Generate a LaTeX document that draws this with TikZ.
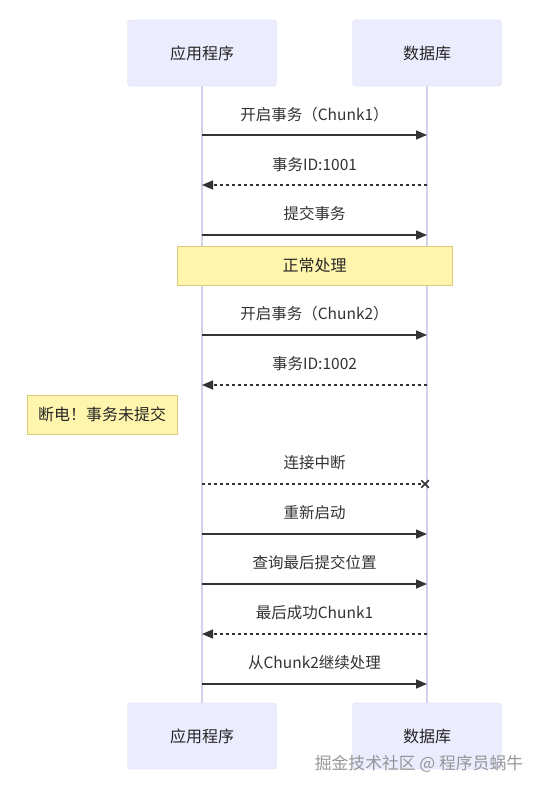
\documentclass[tikz,border=0pt]{standalone}
\usepackage{fontspec}
\setmainfont{Noto Sans CJK SC}
\usepackage{tikz}
\usetikzlibrary{arrows.meta,shapes.misc}
\definecolor{actorfill}{HTML}{ECECFF}
\definecolor{actorline}{HTML}{DCDCF0}
\definecolor{lifeline}{HTML}{D2D2EC}
\definecolor{notefill}{HTML}{FFF5AD}
\definecolor{noteline}{HTML}{D9CB7E}
\definecolor{msgline}{HTML}{333333}
\tikzset{
  actor/.style={draw=actorline,fill=actorfill,rounded corners=3pt,minimum width=149pt,minimum height=66pt,font=\fontsize{16}{19}\selectfont,text=black!85},
  notebox/.style={draw=noteline,line width=1pt,fill=notefill,minimum height=39pt,font=\fontsize{16}{19}\selectfont,text=black!85},
  msg/.style={font=\fontsize{15.5}{18}\selectfont,text=black!80},
  call/.style={draw=msgline,line width=1.5pt,-{Triangle[length=11pt,width=9pt]}},
  reply/.style={call,dash pattern=on 3pt off 3pt},
  lost/.style={draw=msgline,line width=1.5pt,dash pattern=on 3pt off 3pt},
}
\begin{document}
\begin{tikzpicture}[x=1pt,y=-1pt]
\useasboundingbox[fill=white] (0,0) rectangle (542,792);
\node[actor] (app) at (202,53) {应用程序};
\node[actor] (db) at (427,53) {数据库};
\node[actor] (appb) at (202,736) {应用程序};
\node[actor] (dbb) at (427,736) {数据库};
\draw[lifeline,line width=1.5pt] (app.south) -- (appb.north);
\draw[lifeline,line width=1.5pt] (db.south) -- (dbb.north);
% message rows
\coordinate (r1) at (0,135);
\coordinate (r2) at (0,185);
\coordinate (r3) at (0,235);
\coordinate (r5) at (0,335);
\coordinate (r6) at (0,385);
\coordinate (r8) at (0,484);
\coordinate (r9) at (0,534);
\coordinate (r10) at (0,584);
\coordinate (r11) at (0,634);
\coordinate (r12) at (0,684);
\node[msg] (m1) at (314.5,115) {开启事务（Chunk1）};
\draw[call] (app |- r1) -- (db |- r1);
\node[msg] (m2) at (314.5,165) {事务ID:1001};
\draw[reply] (db |- r2) -- (app |- r2);
\node[msg] (m3) at (314.5,214) {提交事务};
\draw[call] (app |- r3) -- (db |- r3);
\node[notebox,minimum width=275pt] (n1) at (314.5,265.5) {正常处理};
\node[msg] (m5) at (314.5,314) {开启事务（Chunk2）};
\draw[call] (app |- r5) -- (db |- r5);
\node[msg] (m6) at (314.5,364) {事务ID:1002};
\draw[reply] (db |- r6) -- (app |- r6);
\node[notebox,minimum width=150pt] (n2) at (102,414.5) {断电！事务未提交};
\node[msg] (m8) at (314.5,463) {连接中断};
\node[cross out,draw=msgline,line width=1.5pt,minimum size=6pt,inner sep=0pt] (x8) at ([xshift=-2pt]db |- r8) {};
\draw[lost] (app |- r8) -- (x8.center);
\node[msg] (m9) at (314.5,513) {重新启动};
\draw[call] (app |- r9) -- (db |- r9);
\node[msg] (m10) at (314.5,563) {查询最后提交位置};
\draw[call] (app |- r10) -- (db |- r10);
\node[msg] (m11) at (314.5,613) {最后成功Chunk1};
\draw[reply] (db |- r11) -- (app |- r11);
\node[msg] (m12) at (314.5,663) {从Chunk2继续处理};
\draw[call] (app |- r12) -- (db |- r12);
\node[font=\fontsize{16.8}{19}\selectfont,text=black!45,opacity=0.9] (mark) at (419,764) {掘金技术社区 @ 程序员蜗牛};
\end{tikzpicture}
\end{document}
